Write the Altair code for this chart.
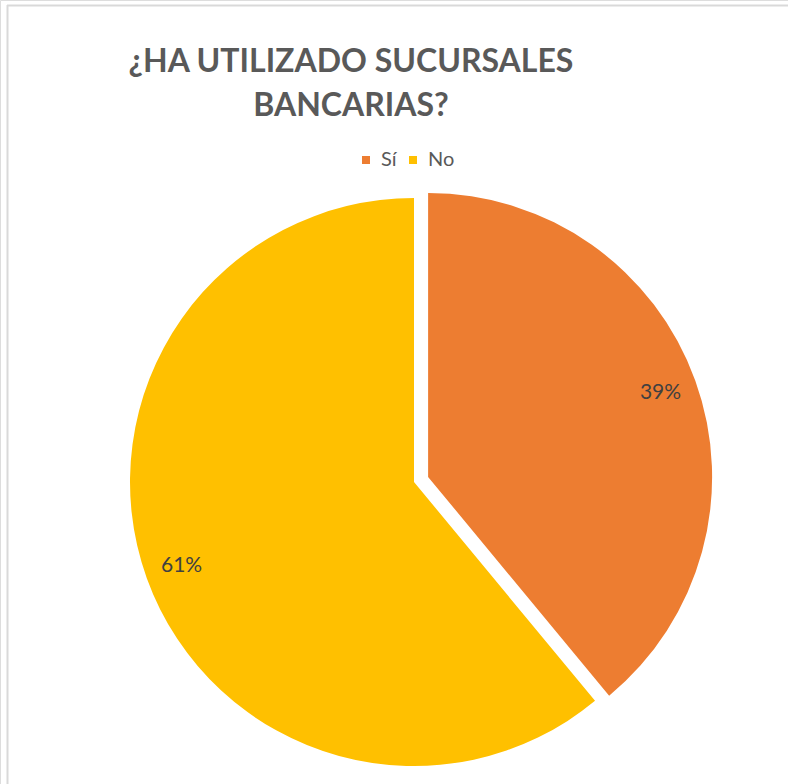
import altair as alt
import pandas as pd

# ---- data ----
categories = ["Sí", "No"]
values = [39, 61]
title_lines = ["¿HA UTILIZADO SUCURSALES", "BANCARIAS?"]
colors = ["#ED7D31", "#FFC000"]

# ---- layout constants (styling) ----
W, H = 788, 784
CX, CY = 414, 482          # pie centre
R = 284                    # pie radius
LABEL_R = 247              # data-label radius
EXPLODE = 15               # explosion of the "Sí" slice
FONT = "Lato"

df = pd.DataFrame({"category": categories, "value": values})

base = alt.Chart(df).transform_joinaggregate(
    total="sum(value)"
).transform_window(
    cum="sum(value)", frame=[None, 0]
).transform_calculate(
    start="2*PI*(datum.cum - datum.value)/datum.total",
    end="2*PI*datum.cum/datum.total",
).transform_calculate(
    mid="(datum.start + datum.end)/2",
    off=f"datum.category == 'Sí' ? {EXPLODE} : 0",
).transform_calculate(
    cx=f"{CX} + datum.off*sin(datum.mid)",
    cy=f"{CY} - datum.off*cos(datum.mid)",
).transform_calculate(
    lx=f"datum.cx + {LABEL_R}*sin(datum.mid)",
    ly=f"datum.cy - {LABEL_R}*cos(datum.mid)",
    label="format(datum.value/datum.total, '.0%')",
)

color = alt.Color(
    "category:N",
    scale=alt.Scale(domain=categories, range=colors),
    sort=categories,
    legend=alt.Legend(
        title=None,
        orient="none",
        legendX=356,
        legendY=150,
        direction="horizontal",
        symbolType="square",
        symbolSize=64,
        symbolStrokeWidth=0,
        labelFont=FONT,
        labelFontSize=20,
        labelColor="#595959",
        labelOffset=5,
        columnPadding=6,
    ),
)

arcs = base.mark_arc(radius=R, stroke=None).encode(
    x=alt.X("cx:Q", scale=None, axis=None),
    y=alt.Y("cy:Q", scale=None, axis=None),
    theta=alt.Theta("start:Q", scale=None),
    theta2=alt.Theta2("end:Q"),
    color=color,
)

labels = base.mark_text(
    font=FONT, fontSize=21, color="#404040", align="center", baseline="middle"
).encode(
    x=alt.X("lx:Q", scale=None, axis=None),
    y=alt.Y("ly:Q", scale=None, axis=None),
    text="label:N",
)

title_df = pd.DataFrame({"t": ["\n".join(title_lines)]})
title = alt.Chart(title_df).mark_text(
    font=FONT, fontSize=32, fontWeight="bold", color="#595959",
    align="center", baseline="alphabetic", lineBreak="\n", lineHeight=44,
).encode(
    x=alt.value(351), y=alt.value(72), text="t:N"
)

border_top = alt.Chart(title_df).mark_rule(color="#D9D9D9", strokeWidth=2).encode(
    x=alt.value(7), x2=alt.value(W), y=alt.value(5.5)
)
border_left = alt.Chart(title_df).mark_rule(color="#D9D9D9", strokeWidth=2).encode(
    x=alt.value(7.5), y=alt.value(5), y2=alt.value(H)
)

chart = alt.layer(border_top, border_left, arcs, labels, title).properties(
    width=W, height=H, padding=0, autosize=alt.AutoSizeParams(type="none")
).configure_view(stroke=None).configure(background="white")

chart.save("out.html", embed_options={"renderer": "svg", "actions": False})
